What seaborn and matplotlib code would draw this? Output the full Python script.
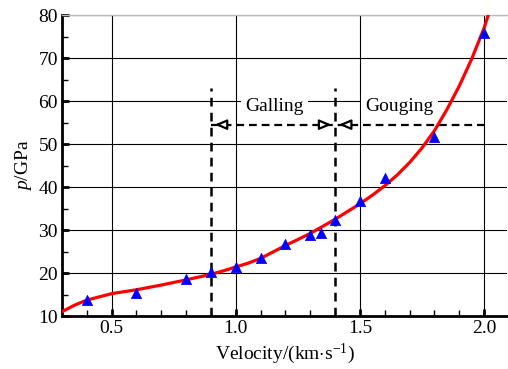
import numpy as np
import pandas as pd
import matplotlib
matplotlib.use('Agg')
import matplotlib.pyplot as plt
from matplotlib.ticker import MultipleLocator, FormatStrFormatter
import seaborn as sns

# measured points (triangles)
vel_pts = [0.4, 0.6, 0.8, 0.9, 1.0, 1.1, 1.2, 1.3, 1.345, 1.4, 1.5, 1.6, 1.8, 2.0]
p_pts = [13.7, 15.3, 18.6, 20.2, 21.4, 23.4, 26.7, 28.8, 29.3, 32.3, 36.8, 42.0, 51.7, 75.8]

# fitted curve
vel_fit = [0.3, 0.35, 0.4, 0.5, 0.6, 0.7, 0.8, 0.9, 0.95, 1.0, 1.05, 1.1, 1.2, 1.3, 1.4,
           1.5, 1.55, 1.6, 1.65, 1.7, 1.75, 1.8, 1.85, 1.9, 1.95, 2.0, 2.025]
p_fit = [11.0, 12.5, 13.7, 15.2, 16.1, 17.2, 18.4, 19.7, 20.5, 21.4, 22.3, 23.4, 26.4, 29.2,
         32.5, 36.1, 38.1, 40.3, 42.8, 45.7, 49.1, 53.1, 58.0, 63.5, 69.8, 77.0, 81.5]

# regime boundaries and labels
bounds = [0.9, 1.4]
arrow_end = 2.0
arrow_p = 54.5
line_top = 63
regions = ['Galling', 'Gouging']
label_x = [1.155, 1.66]
label_p = 58.8

sns.set_style('ticks')
plt.rcParams['font.family'] = ['Liberation Serif', 'DejaVu Serif']
plt.rcParams['mathtext.fontset'] = 'custom'
plt.rcParams['mathtext.rm'] = 'Liberation Serif'
plt.rcParams['mathtext.it'] = 'Liberation Serif:italic'
plt.rcParams['text.color'] = 'black'
plt.rcParams['axes.labelcolor'] = 'black'

fig = plt.figure(figsize=(5.08, 3.69), dpi=100)
ax = fig.add_axes([0.122, 0.1436, 0.876, 0.8157])

fit = pd.DataFrame({'v': vel_fit, 'p': p_fit})
pts = pd.DataFrame({'v': vel_pts, 'p': p_pts})

sns.lineplot(data=fit, x='v', y='p', color='red', lw=2.3, ax=ax, zorder=4, sort=False)
sns.scatterplot(data=pts, x='v', y='p', marker='^', color='blue', s=55,
                edgecolor='blue', linewidth=0.5, ax=ax, zorder=5)

ax.set_xlim(0.3, 2.092)
ax.set_ylim(10, 80)
ax.xaxis.set_major_locator(MultipleLocator(0.5))
ax.xaxis.set_minor_locator(MultipleLocator(0.1))
ax.yaxis.set_major_locator(MultipleLocator(10))
ax.yaxis.set_minor_locator(MultipleLocator(5))
ax.xaxis.set_major_formatter(FormatStrFormatter('%.1f'))

ax.grid(True, which='major', color='black', lw=0.8, zorder=0)
ax.set_axisbelow(True)
ax.tick_params(which='major', direction='in', length=5, width=2, labelsize=14,
               colors='black', pad=3)
ax.tick_params(which='minor', direction='in', length=4, width=1, colors='black')
for s in ['left', 'bottom']:
    ax.spines[s].set_linewidth(2)
    ax.spines[s].set_color('black')
ax.spines['right'].set_visible(False)
ax.spines['top'].set_color('#bbbbbb')
ax.spines['top'].set_linewidth(1)

ax.set_xlabel(r'Velocity/(km$\cdot$s$^{-1}$)', fontsize=14, labelpad=3)
ax.set_ylabel(r'$\mathit{p}$/GPa', fontsize=14, labelpad=3)

# boundary lines
for b in bounds:
    ax.plot([b, b], [10, line_top], color='black', lw=1.8, ls=(0, (3.5, 2.5)), zorder=3)
ax.plot([bounds[0], arrow_end], [arrow_p, arrow_p], color='black', lw=1.6,
        ls=(0, (3.5, 2.2)), zorder=3)

# open arrow heads
heads = [(bounds[0] + 0.015, 1), (bounds[1] - 0.015, -1), (bounds[1] + 0.015, 1)]
for tip, d in heads:
    ax.annotate('', xy=(tip, arrow_p), xytext=(tip + d * 0.05, arrow_p),
                arrowprops=dict(arrowstyle='-|>,head_length=0.7,head_width=0.3',
                                fc='white', ec='black', lw=1.6, shrinkA=0, shrinkB=0),
                zorder=4)

for name, lx in zip(regions, label_x):
    ax.text(lx, label_p, name, ha='center', va='center', fontsize=14, zorder=2,
            bbox=dict(facecolor='white', edgecolor='none', pad=3))

fig.savefig('out.png', dpi=100)
